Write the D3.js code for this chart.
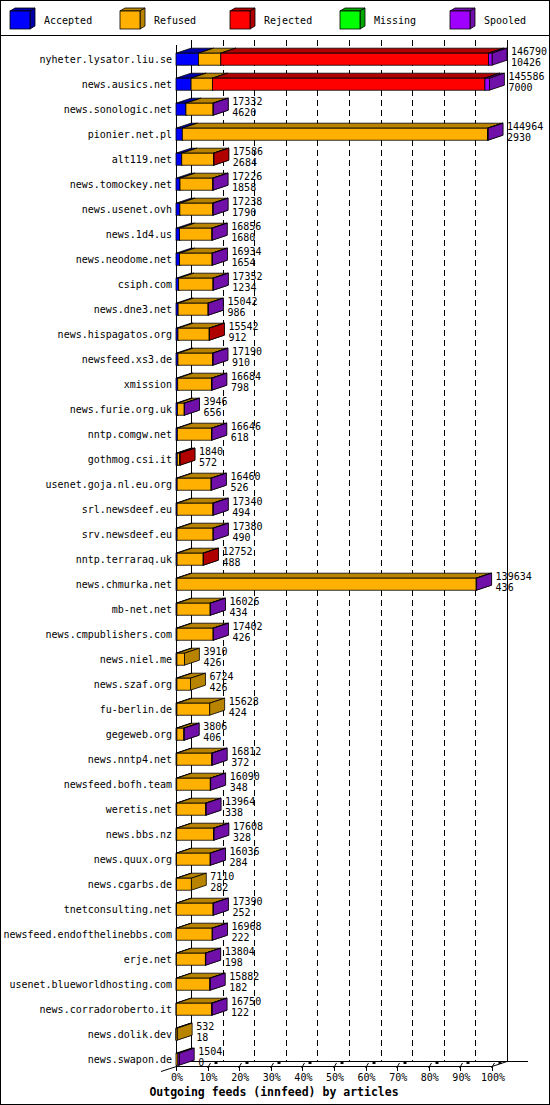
<!DOCTYPE html>
<html><head><meta charset="utf-8">
<script src="https://cdn.jsdelivr.net/npm/d3@7"></script>
<style>
html,body{margin:0;padding:0;background:#fff;}
svg text{font-family:"DejaVu Sans Mono","Liberation Mono",monospace;}
</style></head>
<body><svg id="chart" width="550" height="1105"></svg>
<script>
const hosts = ["nyheter.lysator.liu.se","news.ausics.net","news.sonologic.net","pionier.net.pl","alt119.net","news.tomockey.net","news.usenet.ovh","news.1d4.us","news.neodome.net","csiph.com","news.dne3.net","news.hispagatos.org","newsfeed.xs3.de","xmission","news.furie.org.uk","nntp.comgw.net","gothmog.csi.it","usenet.goja.nl.eu.org","srl.newsdeef.eu","srv.newsdeef.eu","nntp.terraraq.uk","news.chmurka.net","mb-net.net","news.cmpublishers.com","news.niel.me","news.szaf.org","fu-berlin.de","gegeweb.org","news.nntp4.net","newsfeed.bofh.team","weretis.net","news.bbs.nz","news.quux.org","news.cgarbs.de","tnetconsulting.net","newsfeed.endofthelinebbs.com","erje.net","usenet.blueworldhosting.com","news.corradoroberto.it","news.dolik.dev","news.swapon.de"];
const totals = [146790,145586,17332,144964,17586,17226,17238,16856,16934,17352,15042,15542,17190,16684,3946,16646,1840,16460,17340,17380,12752,139634,16026,17402,3910,6724,15628,3806,16812,16090,13964,17608,16036,7110,17390,16968,13804,15882,16750,532,1504];
const accepted = [10426,7000,4620,2930,2684,1858,1790,1680,1654,1234,986,912,910,798,656,618,572,526,494,490,488,436,434,426,426,426,424,406,372,348,338,328,284,282,252,222,198,182,122,18,0];
const refused = [10400,9900,12600,141800,14800,15200,15300,15000,15100,15950,13900,14500,16100,15700,3150,15850,1200,15760,16670,16710,12130,139000,15420,16800,3484,6298,15204,3250,16260,15570,13460,17100,15580,6828,16960,16570,13440,15530,16450,514,900];
const rejected = [124364,126600,0,0,102,0,0,0,0,0,0,130,0,0,0,0,68,0,0,0,134,0,0,0,0,0,0,0,0,0,0,0,0,0,0,0,0,0,0,0,0];
const missing = [0,0,0,0,0,0,0,0,0,0,0,0,0,0,0,0,0,0,0,0,0,0,0,0,0,0,0,0,0,0,0,0,0,0,0,0,0,0,0,0,0];
const spooled = [1600,2086,112,234,0,168,148,176,180,168,156,0,180,186,140,178,0,174,176,180,0,198,172,176,0,0,0,150,180,172,166,180,172,0,178,176,166,170,178,0,604];
const seriesNames = ["Accepted","Refused","Rejected","Missing","Spooled"];
const tickPcts = [0,10,20,30,40,50,60,70,80,90,100];
const title = "Outgoing feeds (innfeed) by articles";

const frontColors = ["#0000ff","#ffb000","#ff0000","#00ff00","#a000ff"];
const darkColors  = ["#0000a8","#b88400","#b00000","#00a800","#7010a8"];
const series = [accepted, refused, rejected, missing, spooled];

const svg = d3.select("#chart");
const W = 550, H = 1105;
const DX = 15, DY = 5, BAR_H = 12;
const FLOOR_FRONT = 1066, FLOOR_BACK = 1061, TOP_BACK = 40, TOP_FRONT = 45;

const maxTotal = d3.max(totals);
const x = d3.scaleLinear().domain([0, maxTotal]).range([176, 492]);
const xp = d3.scaleLinear().domain([0, 100]).range([176, 492]);
const y = d3.scalePoint().domain(hosts).range([59.2, 59.2 + 25 * (hosts.length - 1)]);

// outer frame + legend separator
svg.append("rect").attr("x",0.5).attr("y",0.5).attr("width",W-1).attr("height",H-1)
  .attr("fill","#fff").attr("stroke","#000");
svg.append("line").attr("x1",0).attr("x2",W).attr("y1",35.5).attr("y2",35.5).attr("stroke","#000");

// legend
const leg = svg.append("g");
seriesNames.forEach((n,i)=>{
  const lx = 10 + i*110, ly = 11, lw = 20, lh = 18, ldx = 5, ldy = 3;
  const g = leg.append("g");
  g.append("path").attr("d",`M${lx},${ly}L${lx+ldx},${ly-ldy}L${lx+lw+ldx},${ly-ldy}L${lx+lw},${ly}Z`)
    .attr("fill",darkColors[i]).attr("stroke","#000").attr("stroke-width",0.8);
  g.append("path").attr("d",`M${lx+lw},${ly}L${lx+lw+ldx},${ly-ldy}L${lx+lw+ldx},${ly+lh-ldy}L${lx+lw},${ly+lh}Z`)
    .attr("fill",darkColors[i]).attr("stroke","#000").attr("stroke-width",0.8);
  g.append("rect").attr("x",lx).attr("y",ly).attr("width",lw).attr("height",lh)
    .attr("fill",frontColors[i]).attr("stroke","#000").attr("stroke-width",0.8);
  g.append("text").attr("x",lx+34).attr("y",24).attr("font-size",10).attr("fill","#000").text(n);
});

// back wall grid
tickPcts.forEach(p=>{
  const bx = Math.round(xp(p)+DX)+0.5;
  const solid = (p===0 || p===100);
  svg.append("line").attr("x1",bx).attr("x2",bx).attr("y1",TOP_BACK).attr("y2",FLOOR_BACK)
    .attr("stroke","#000").attr("stroke-width",1)
    .attr("stroke-dasharray", solid ? null : "6,4");
});
// front left axis
svg.append("line").attr("x1",176.5).attr("x2",176.5).attr("y1",TOP_FRONT).attr("y2",FLOOR_FRONT).attr("stroke","#000");
// floor lines
svg.append("line").attr("x1",176).attr("x2",528).attr("y1",FLOOR_BACK+0.5).attr("y2",FLOOR_BACK+0.5).attr("stroke","#000");
svg.append("line").attr("x1",176).attr("x2",xp(100)).attr("y1",FLOOR_FRONT+0.5).attr("y2",FLOOR_FRONT+0.5).attr("stroke","#000");
svg.append("line").attr("x1",xp(100)).attr("x2",xp(100)+DX).attr("y1",FLOOR_FRONT+0.5).attr("y2",FLOOR_BACK+0.5).attr("stroke","#000");
svg.append("line").attr("x1",161).attr("x2",176.5).attr("y1",FLOOR_FRONT+5.5).attr("y2",FLOOR_FRONT+0.5).attr("stroke","#000");

// ticks
const tickG = svg.append("g");
tickPcts.forEach(p=>{
  const fx = Math.round(xp(p))+0.5;
  tickG.append("line").attr("x1",fx).attr("x2",fx).attr("y1",FLOOR_FRONT).attr("y2",FLOOR_FRONT+5).attr("stroke","#000");
  if (p>0){
    tickG.append("line").attr("x1",fx-1).attr("x2",fx+2).attr("y1",FLOOR_FRONT+2).attr("y2",FLOOR_FRONT-3).attr("stroke","#000");
    tickG.append("rect").attr("x",fx+6).attr("y",FLOOR_BACK).attr("width",3).attr("height",3).attr("fill","#000");
  }
  tickG.append("text").attr("x",xp(p)+1).attr("y",1081).attr("text-anchor","middle")
    .attr("font-size",10).attr("fill","#000").text(p+"%");
});

// bars
const bars = svg.append("g");
hosts.forEach((h,i)=>{
  const top = y(h) - BAR_H/2;
  let cum = 0;
  series.forEach((s,k)=>{
    const v = s[i];
    if (!v) return;
    const x0 = x(cum), x1 = x(cum+v);
    cum += v;
    const g = bars.append("g");
    g.append("path").attr("d",`M${x0},${top}L${x0+DX},${top-DY}L${x1+DX},${top-DY}L${x1},${top}Z`)
      .attr("fill",darkColors[k]).attr("stroke","#000").attr("stroke-width",0.8).attr("stroke-linejoin","round");
    g.append("path").attr("d",`M${x1},${top}L${x1+DX},${top-DY}L${x1+DX},${top+BAR_H-DY}L${x1},${top+BAR_H}Z`)
      .attr("fill",darkColors[k]).attr("stroke","#000").attr("stroke-width",0.8).attr("stroke-linejoin","round");
    g.append("rect").attr("x",x0).attr("y",top).attr("width",Math.max(0,x1-x0)).attr("height",BAR_H)
      .attr("fill",frontColors[k]).attr("stroke","#000").attr("stroke-width",0.8);
  });
  // host label
  svg.append("text").attr("x",172).attr("y",top+10).attr("text-anchor","end")
    .attr("font-size",10).attr("fill","#000").text(h);
  // number labels
  const lx = x(totals[i]) + DX + 4;
  svg.append("text").attr("x",lx).attr("y",top+2).attr("font-size",10).attr("fill","#000").text(totals[i]);
  svg.append("text").attr("x",lx).attr("y",top+12.5).attr("font-size",10).attr("fill","#000").text(accepted[i]);
});

// title
svg.append("text").attr("x",274).attr("y",1096).attr("text-anchor","middle")
  .attr("font-size",11.5).attr("font-weight","bold").attr("fill","#000").text(title);
</script>
</body></html>
